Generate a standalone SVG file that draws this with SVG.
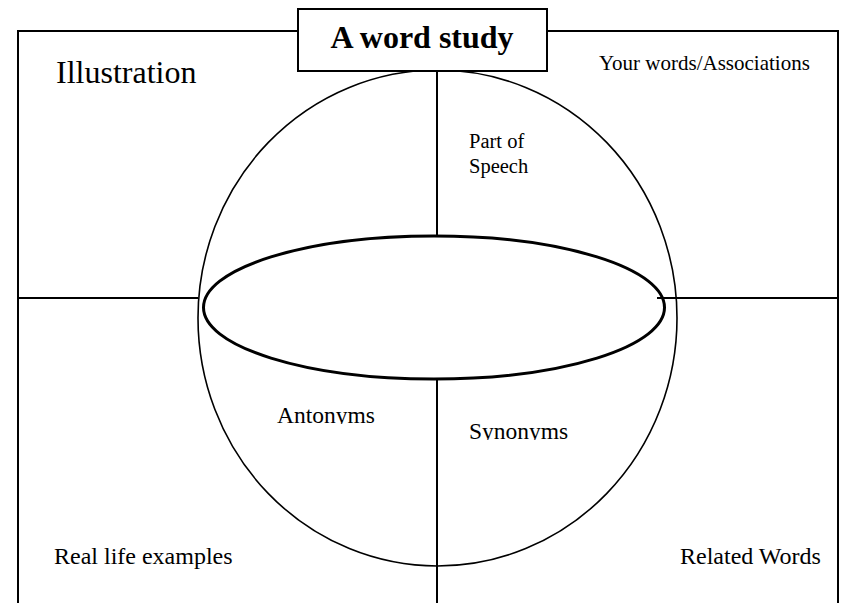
<svg xmlns="http://www.w3.org/2000/svg" width="863" height="603" viewBox="0 0 863 603">
<defs>
<style>
text{font-family:'Liberation Serif','Times New Roman',Times,serif;fill:#000}
.ln{stroke:#000;fill:none}
</style>
<clipPath id="clipA"><rect x="260" y="390" width="140" height="34"/></clipPath>
<clipPath id="clipS"><rect x="460" y="405" width="140" height="35"/></clipPath>
</defs>
<rect width="863" height="603" fill="#fff"/>
<g id="connectors">
<path class="ln" stroke-width="2" d="M18,603 V31 H298 M547,31 H838 V603"/>
<line class="ln" stroke-width="2" x1="18" y1="298" x2="198" y2="298"/>
<line class="ln" stroke-width="2" x1="657" y1="298" x2="838" y2="298"/>
<line class="ln" stroke-width="2" x1="437" y1="71" x2="437" y2="236"/>
<line class="ln" stroke-width="2" x1="437" y1="379" x2="437" y2="603"/>
</g>
<g id="circle">
<ellipse class="ln" stroke-width="1.6" cx="437.5" cy="318" rx="239.5" ry="248"/>
</g>
<g id="inner-ellipse">
<ellipse class="ln" stroke-width="3" cx="434" cy="307.5" rx="230.5" ry="71.5"/>
</g>
<g id="title">
<rect x="298" y="9" width="249" height="62" fill="#fff" stroke="#000" stroke-width="2"/>
<text x="422" y="48" font-size="32" font-weight="bold" text-anchor="middle">A word study</text>
</g>
<g id="illustration"><text x="56" y="83" font-size="32">Illustration</text></g>
<g id="associations"><text x="599" y="70" font-size="21">Your words/Associations</text></g>
<g id="part-of-speech"><text x="469" y="148" font-size="20.5">Part of</text><text x="469" y="173" font-size="20.5">Speech</text></g>
<g id="antonyms"><text x="277" y="423" font-size="23.5" clip-path="url(#clipA)">Antonyms</text></g>
<g id="synonyms"><text x="469" y="439" font-size="23.5" clip-path="url(#clipS)">Synonyms</text></g>
<g id="real-life"><text x="54" y="564" font-size="24">Real life examples</text></g>
<g id="related"><text x="680" y="564" font-size="24">Related Words</text></g>
</svg>
